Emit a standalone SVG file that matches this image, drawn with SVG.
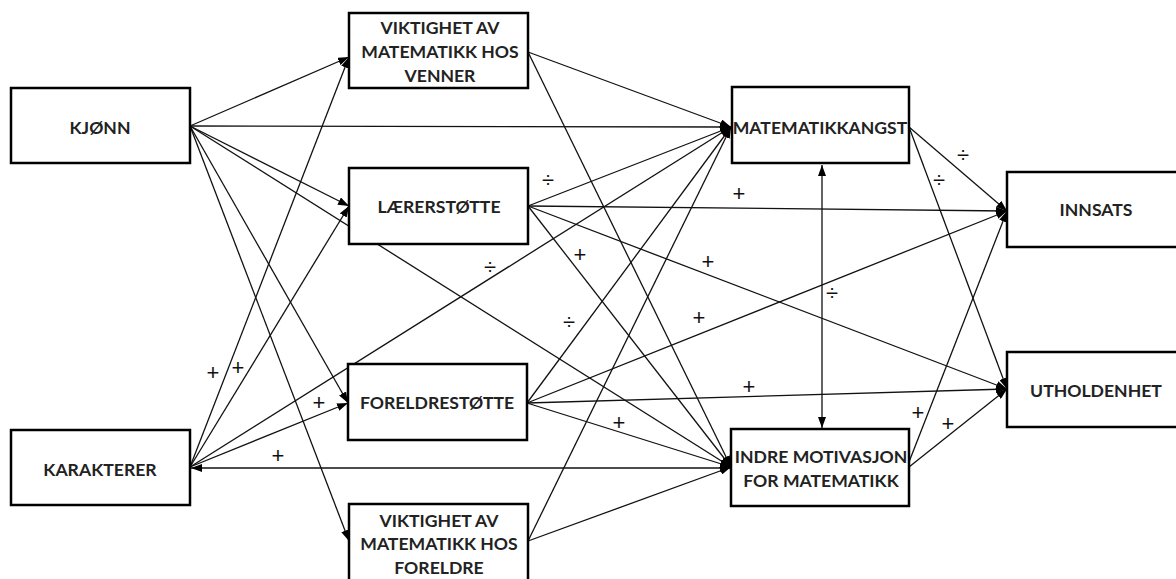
<svg xmlns="http://www.w3.org/2000/svg" width="1176" height="579" viewBox="0 0 1176 579">
<style>
.box{fill:#fff;stroke:#000;stroke-width:2.5}
.t{font-family:Lato,"Liberation Sans",sans-serif;font-weight:bold;font-size:17.6px;fill:#222;text-anchor:middle}
.c line{stroke:#111;stroke-width:1.3;marker-end:url(#ah)}
.lab{font-family:"Liberation Sans",Arial,sans-serif;font-size:22px;fill:#111;text-anchor:middle}
</style>
<defs>
<marker id="ah" markerUnits="userSpaceOnUse" markerWidth="11" markerHeight="8" refX="11" refY="4" orient="auto-start-reverse">
<path d="M0,0 L11,4 L0,8 z" fill="#000"/>
</marker>
</defs>
<g id="connectors" class="c">
<line x1="190" y1="126" x2="349" y2="57"/>
<line x1="190" y1="126" x2="731" y2="127"/>
<line x1="190" y1="126" x2="349" y2="206"/>
<line x1="190" y1="126" x2="348" y2="403"/>
<line x1="190" y1="126" x2="349" y2="541"/>
<line x1="190" y1="126" x2="731" y2="467"/>
<line x1="190" y1="467" x2="349" y2="57"/>
<line x1="190" y1="467" x2="349" y2="206"/>
<line x1="190" y1="467" x2="348" y2="403"/>
<line x1="190" y1="467" x2="731" y2="127"/>
<line x1="191" y1="468" x2="731" y2="468" style="marker-start:url(#ah)"/>
<line x1="528" y1="52" x2="731" y2="127"/>
<line x1="528" y1="52" x2="731" y2="467"/>
<line x1="528" y1="206" x2="731" y2="127"/>
<line x1="528" y1="206" x2="1007" y2="211"/>
<line x1="528" y1="206" x2="1007" y2="389"/>
<line x1="528" y1="206" x2="731" y2="467"/>
<line x1="527" y1="403" x2="731" y2="127"/>
<line x1="527" y1="403" x2="1007" y2="211"/>
<line x1="527" y1="403" x2="1007" y2="389"/>
<line x1="527" y1="403" x2="731" y2="467"/>
<line x1="528" y1="541" x2="731" y2="127"/>
<line x1="528" y1="541" x2="731" y2="467"/>
<line x1="909" y1="127" x2="1007" y2="211"/>
<line x1="909" y1="127" x2="1007" y2="389"/>
<line x1="909" y1="462" x2="1007" y2="211"/>
<line x1="909" y1="467" x2="1007" y2="389"/>
<line x1="822" y1="165" x2="822" y2="428" style="marker-start:url(#ah)"/>
</g>
<g id="n-kjonn"><rect class="box" x="11" y="88" width="179" height="75"/><text class="t" x="100" y="134">KJØNN</text></g>
<g id="n-karakterer"><rect class="box" x="11" y="430" width="179" height="75"/><text class="t" x="100" y="476">KARAKTERER</text></g>
<g id="n-venner"><rect class="box" x="349" y="13" width="179" height="75"/><text class="t" x="440" y="34">VIKTIGHET AV</text><text class="t" x="440" y="58">MATEMATIKK HOS</text><text class="t" x="440" y="82">VENNER</text></g>
<g id="n-laerer"><rect class="box" x="349" y="168" width="179" height="76"/><text class="t" x="439" y="213">LÆRERSTØTTE</text></g>
<g id="n-foreldrestotte"><rect class="box" x="348" y="364" width="179" height="76"/><text class="t" x="437" y="409">FORELDRESTØTTE</text></g>
<g id="n-foreldre"><rect class="box" x="349" y="504" width="179" height="82"/><text class="t" x="439" y="527">VIKTIGHET AV</text><text class="t" x="439" y="550">MATEMATIKK HOS</text><text class="t" x="439" y="574">FORELDRE</text></g>
<g id="n-angst"><rect class="box" x="732" y="87" width="177" height="76"/><text class="t" x="820" y="134">MATEMATIKKANGST</text></g>
<g id="n-motivasjon"><rect class="box" x="731" y="429" width="178" height="77"/><text class="t" x="821" y="463">INDRE MOTIVASJON</text><text class="t" x="821" y="487">FOR MATEMATIKK</text></g>
<g id="n-innsats"><rect class="box" x="1007" y="172" width="179" height="75"/><text class="t" x="1096" y="216">INNSATS</text></g>
<g id="n-utholdenhet"><rect class="box" x="1007" y="352" width="179" height="75"/><text class="t" x="1096" y="397">UTHOLDENHET</text></g>
<g id="labels">
<text class="lab" x="213" y="380">+</text>
<text class="lab" x="238" y="375">+</text>
<text class="lab" x="319" y="410">+</text>
<text class="lab" x="278" y="463">+</text>
<text class="lab" x="548" y="187">÷</text>
<text class="lab" x="580" y="262">+</text>
<text class="lab" x="708" y="269">+</text>
<text class="lab" x="739" y="201">+</text>
<text class="lab" x="490" y="274">÷</text>
<text class="lab" x="569" y="329">÷</text>
<text class="lab" x="699" y="325">+</text>
<text class="lab" x="619" y="430">+</text>
<text class="lab" x="749" y="394">+</text>
<text class="lab" x="918" y="420">+</text>
<text class="lab" x="948" y="431">+</text>
<text class="lab" x="963" y="162">÷</text>
<text class="lab" x="939" y="187">÷</text>
<text class="lab" x="832" y="300">÷</text>
</g>
</svg>
